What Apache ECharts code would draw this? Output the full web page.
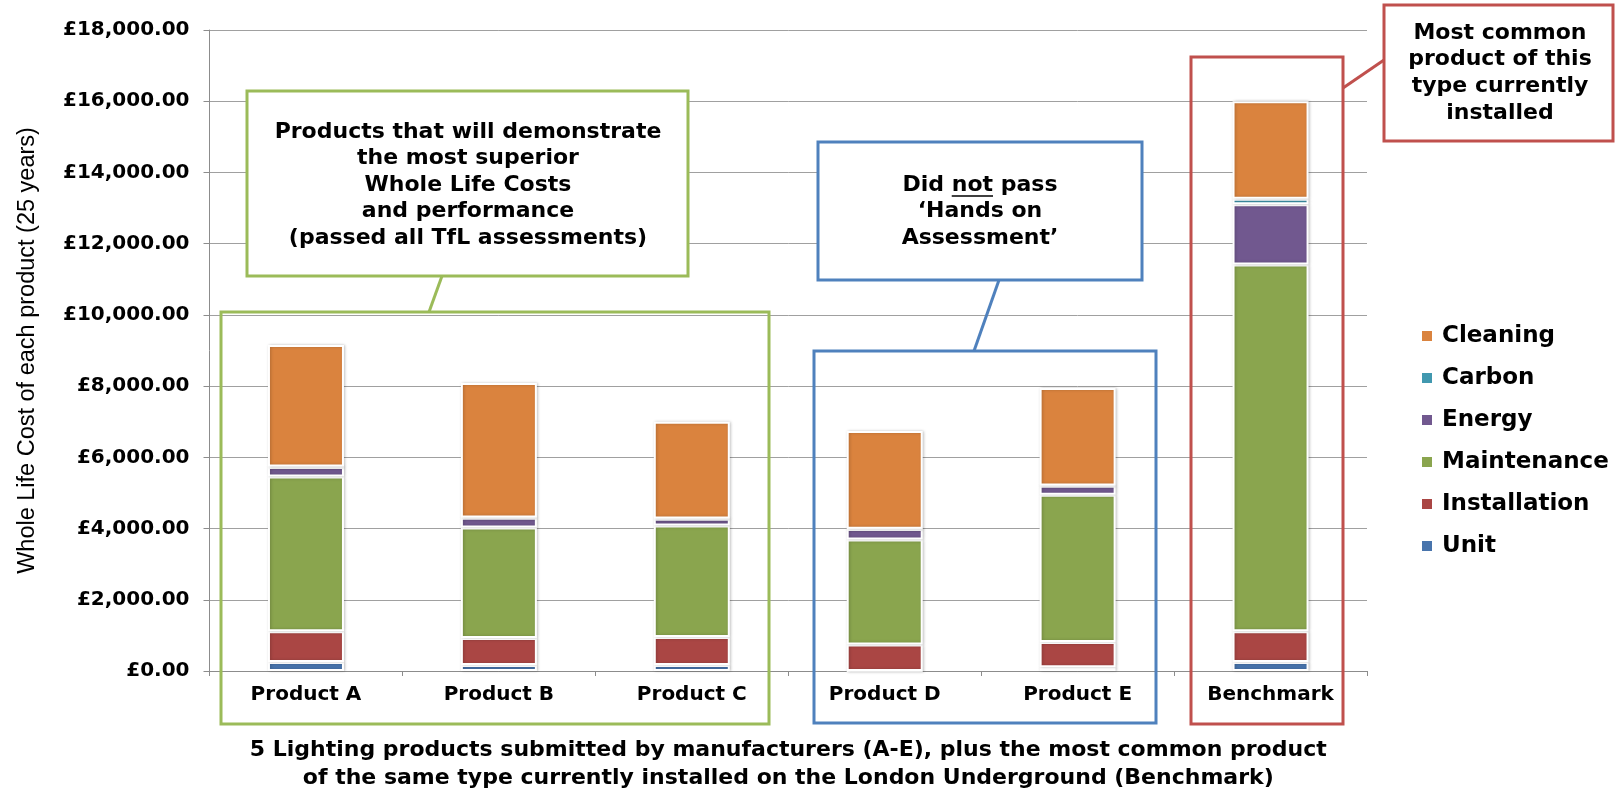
<!DOCTYPE html>
<html>
<head>
<meta charset="utf-8">
<script src="https://cdn.jsdelivr.net/npm/echarts@6/dist/echarts.min.js"></script>
<style>
html,body{margin:0;padding:0;background:#fff;}
#chart{width:1618px;height:797px;}
</style>
</head>
<body>
<div id="chart"></div>
<script>
const categories = ['Product A','Product B','Product C','Product D','Product E','Benchmark'];
const unit         = [250, 167, 167,   0, 102,   250];
const installation = [863, 760, 788, 742, 714,   863];
const maintenance  = [4348, 3106, 3134, 2948, 4135, 10300];
const energy       = [269, 269, 185, 297, 250,  1697];
const carbon       = [10, 10, 10, 10, 10,  150];
const cleaning     = [3412, 3773, 2716, 2744, 2735, 2740];
const seriesNames  = ['Unit','Installation','Maintenance','Energy','Carbon','Cleaning'];
const legendOrder  = ['Cleaning','Carbon','Energy','Maintenance','Installation','Unit'];
const yTicks       = [0, 2000, 4000, 6000, 8000, 10000, 12000, 14000, 16000, 18000];
const xTitle = '5 Lighting products submitted by manufacturers (A-E), plus the most common product\nof the same type currently installed on the London Underground (Benchmark)';
const yTitle = 'Whole Life Cost of each product (25 years)';
const greenText = 'Products that will demonstrate\nthe most superior\nWhole Life Costs\nand performance\n(passed all TfL assessments)';
const blueText = 'Did not pass\n\u2018Hands on\nAssessment\u2019';
const redText = 'Most common\nproduct of this\ntype currently\ninstalled';

const colors = {
  Unit: '#4874AC',
  Installation: '#AA4644',
  Maintenance: '#8AA54E',
  Energy: '#71588F',
  Carbon: '#4198AF',
  Cleaning: '#DA833E'
};
const seriesData = [unit, installation, maintenance, energy, carbon, cleaning];

const BOLD = 'DejaVu Sans';
const chart = echarts.init(document.getElementById('chart'), null, {renderer: 'canvas'});

// measure underline position for "not"
const cv = document.createElement('canvas').getContext('2d');
cv.font = 'bold 22px "DejaVu Sans"';
const blueCx = 980;
const fullW = cv.measureText('Did not pass').width;
const preW = cv.measureText('Did ').width;
const notW = cv.measureText('not').width;
const ulX1 = blueCx - fullW / 2 + preW;
const ulX2 = ulX1 + notW;

const boxStyle = (c) => ({fill: 'none', stroke: c, lineWidth: 3});
const callStyle = (c) => ({fill: '#fff', stroke: c, lineWidth: 3});
const txt = (text, x, y) => ({
  type: 'text', z: 102, x: x, y: y,
  style: {text: text, fill: '#000', font: 'bold 22px "DejaVu Sans"', align: 'center', verticalAlign: 'middle', lineHeight: 26.6}
});

const option = {
  backgroundColor: '#fff',
  animation: false,
  grid: {left: 209.5, right: 251, top: 30, bottom: 119, containLabel: false},
  legend: {
    data: legendOrder,
    orient: 'vertical',
    left: 1415, top: 319.5,
    itemWidth: 12, itemHeight: 12, itemGap: 19,
    icon: 'rect',
    textStyle: {fontFamily: BOLD, fontWeight: 'bold', fontSize: 23, lineHeight: 23, color: '#000', padding: [0,0,0,4]}
  },
  xAxis: {
    type: 'category',
    data: categories,
    axisLine: {lineStyle: {color: '#8C8C8C', width: 1}},
    axisTick: {show: true, length: 5, lineStyle: {color: '#8C8C8C'}},
    axisLabel: {fontFamily: BOLD, fontWeight: 'bold', fontSize: 20, color: '#000', margin: 14},
    name: xTitle,
    nameLocation: 'middle',
    nameGap: 65,
    nameTextStyle: {fontFamily: BOLD, fontWeight: 'bold', fontSize: 22, lineHeight: 28, color: '#000'}
  },
  yAxis: {
    type: 'value',
    min: yTicks[0], max: yTicks[yTicks.length - 1], interval: yTicks[1] - yTicks[0],
    axisLine: {show: true, lineStyle: {color: '#8C8C8C', width: 1}},
    axisTick: {show: true, length: 6, lineStyle: {color: '#8C8C8C'}},
    splitLine: {lineStyle: {color: '#A0A0A0', width: 1}},
    axisLabel: {
      fontFamily: BOLD, fontWeight: 'bold', fontSize: 20, color: '#000', margin: 20,
      formatter: v => '\u00a3' + v.toLocaleString('en-GB', {minimumFractionDigits: 2, maximumFractionDigits: 2})
    },
    name: yTitle,
    nameLocation: 'middle',
    nameGap: 170,
    nameTextStyle: {fontFamily: 'Liberation Sans', fontSize: 23.5, color: '#000'}
  },
  series: seriesNames.map((n, i) => ({
    name: n,
    type: 'bar',
    stack: 'total',
    barWidth: 76,
    data: seriesData[i],
    itemStyle: {
      color: colors[n],
      borderColor: '#fff', borderWidth: 2,
      shadowColor: 'rgba(0,0,0,0.22)', shadowBlur: 3, shadowOffsetX: 1, shadowOffsetY: 0
    }
  })),
  graphic: [
    {type: 'rect', z: 100, shape: {x: 221, y: 312, width: 548, height: 412}, style: boxStyle('#9BBB59')},
    {type: 'rect', z: 100, shape: {x: 814, y: 351, width: 342, height: 372}, style: boxStyle('#4F81BD')},
    {type: 'rect', z: 100, shape: {x: 1191, y: 57, width: 152, height: 667}, style: boxStyle('#C0504D')},
    {type: 'line', z: 100, shape: {x1: 442, y1: 276, x2: 429, y2: 312}, style: {stroke: '#9BBB59', lineWidth: 3}},
    {type: 'line', z: 100, shape: {x1: 999, y1: 280, x2: 974, y2: 351}, style: {stroke: '#4F81BD', lineWidth: 3}},
    {type: 'line', z: 100, shape: {x1: 1343, y1: 88, x2: 1384, y2: 60}, style: {stroke: '#C0504D', lineWidth: 3}},
    {type: 'rect', z: 101, shape: {x: 247, y: 91, width: 441, height: 185}, style: callStyle('#9BBB59')},
    {type: 'rect', z: 101, shape: {x: 818, y: 142, width: 324, height: 138}, style: callStyle('#4F81BD')},
    {type: 'rect', z: 101, shape: {x: 1384, y: 5, width: 229, height: 136}, style: callStyle('#C0504D')},
    txt(greenText, 468, 185),
    txt(blueText, blueCx, 211.5),
    txt(redText, 1500, 73),
    {type: 'line', z: 102, shape: {x1: ulX1, y1: 196, x2: ulX2, y2: 196}, style: {stroke: '#000', lineWidth: 1.5}}
  ]
};
chart.setOption(option);
</script>
</body>
</html>
